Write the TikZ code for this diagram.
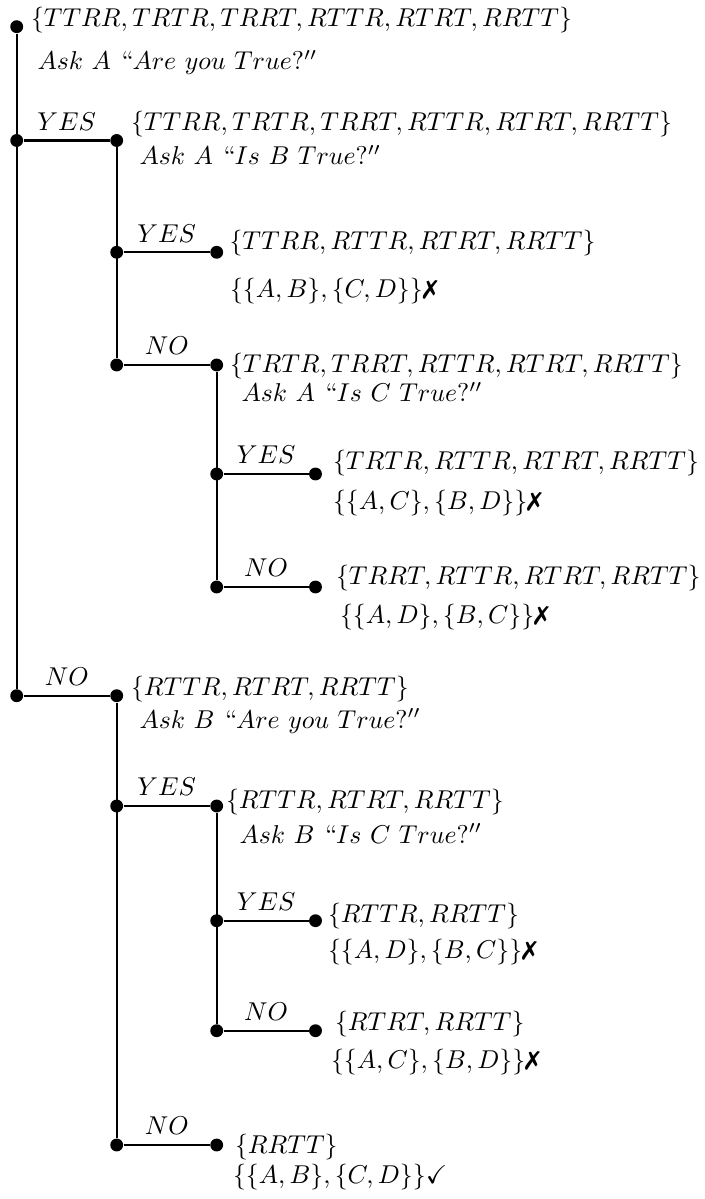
\documentclass[tikz,border=0pt]{standalone}
\usepackage{amssymb}
\usepackage{pifont}
\begin{document}
\begin{tikzpicture}[x=0.388pt,y=-0.388pt,
  dot/.style={circle,fill=black,inner sep=0pt,minimum size=5pt},
  txt/.style={anchor=base west,inner sep=0pt},
  lbl/.style={anchor=base,inner sep=0pt,yshift=3.9pt},
  br/.style={line width=0.85pt}]
\useasboundingbox (0,0) rectangle (704,1199);
% dots
\node[dot] (r)  at (16.7,26.7) {};
\node[dot] (a)  at (16.7,140.5) {};
\node[dot] (ay) at (116.7,140.5) {};
\node[dot] (b)  at (116.7,252.3) {};
\node[dot] (by) at (216.7,252.3) {};
\node[dot] (c)  at (116.7,365) {};
\node[dot] (cn) at (216.7,365) {};
\node[dot] (d)  at (216.7,474) {};
\node[dot] (dy) at (315.5,474) {};
\node[dot] (e)  at (216.7,587) {};
\node[dot] (en) at (315.5,587) {};
\node[dot] (f)  at (16.7,695.7) {};
\node[dot] (fn) at (116.7,695.7) {};
\node[dot] (g)  at (116.7,806) {};
\node[dot] (gy) at (216.7,806) {};
\node[dot] (h)  at (216.7,920.7) {};
\node[dot] (hy) at (315.5,920.7) {};
\node[dot] (k)  at (216.7,1030.7) {};
\node[dot] (kn) at (315.5,1030.7) {};
\node[dot] (j)  at (116.7,1145) {};
\node[dot] (jn) at (216.7,1145) {};
% vertical stems
\draw[br] (r) -- (f);
\draw[br] (ay) -- (c);
\draw[br] (cn) -- (e);
\draw[br] (fn) -- (j);
\draw[br] (gy) -- (k);
% branches
\draw[br] (a) -- node[lbl]{$YES$} (ay);
\draw[br] (b) -- node[lbl]{$YES$} (by);
\draw[br] (c) -- node[lbl]{$NO$} (cn);
\draw[br] (d) -- node[lbl]{$YES$} (dy);
\draw[br] (e) -- node[lbl]{$NO$} (en);
\draw[br] (f) -- node[lbl]{$NO$} (fn);
\draw[br] (g) -- node[lbl]{$YES$} (gy);
\draw[br] (h) -- node[lbl]{$YES$} (hy);
\draw[br] (k) -- node[lbl]{$NO$} (kn);
\draw[br] (j) -- node[lbl]{$NO$} (jn);
% texts
\node[txt] (t1) at (30.5,26.5) {$\{TTRR, TRTR, TRRT, RTTR, RTRT, RRTT\}$};
\node[txt] (q1) at (37,69.5) {$Ask\ A\ ``Are\ you\ True?''$};
\node[txt] (t2) at (130.5,131) {$\{TTRR, TRTR, TRRT, RTTR, RTRT, RRTT\}$};
\node[txt] (q2) at (139,165) {$Ask\ A\ ``Is\ B\ True?''$};
\node[txt] (t3) at (229,250) {$\{TTRR, RTTR, RTRT, RRTT\}$};
\node[txt] (s3) at (229.5,298) {$\{\{A,B\},\{C,D\}\}$\ding{55}};
\node[txt] (t4) at (229.5,373) {$\{TRTR, TRRT, RTTR, RTRT, RRTT\}$};
\node[txt] (q4) at (241,401.5) {$Ask\ A\ ``Is\ C\ True?''$};
\node[txt] (t5) at (332.5,470) {$\{TRTR, RTTR, RTRT, RRTT\}$};
\node[txt] (s5) at (332.5,510) {$\{\{A,C\},\{B,D\}\}$\ding{55}};
\node[txt] (t6) at (335.5,585) {$\{TRRT, RTTR, RTRT, RRTT\}$};
\node[txt] (s6) at (339.5,623) {$\{\{A,D\},\{B,C\}\}$\ding{55}};
\node[txt] (t7) at (130.5,695) {$\{RTTR, RTRT, RRTT\}$};
\node[txt] (q7) at (139,728) {$Ask\ B\ ``Are\ you\ True?''$};
\node[txt] (t8) at (225.5,808) {$\{RTTR, RTRT, RRTT\}$};
\node[txt] (q8) at (239,843) {$Ask\ B\ ``Is\ C\ True?''$};
\node[txt] (t9) at (327.5,922) {$\{RTTR, RRTT\}$};
\node[txt] (s9) at (327.5,958) {$\{\{A,D\},\{B,C\}\}$\ding{55}};
\node[txt] (t10) at (334.5,1030) {$\{RTRT, RRTT\}$};
\node[txt] (s10) at (330.5,1068) {$\{\{A,C\},\{B,D\}\}$\ding{55}};
\node[txt] (t11) at (234.5,1153) {$\{RRTT\}$};
\node[txt] (s11) at (232.5,1183) {$\{\{A,B\},\{C,D\}\}\checkmark$};
\end{tikzpicture}
\end{document}
